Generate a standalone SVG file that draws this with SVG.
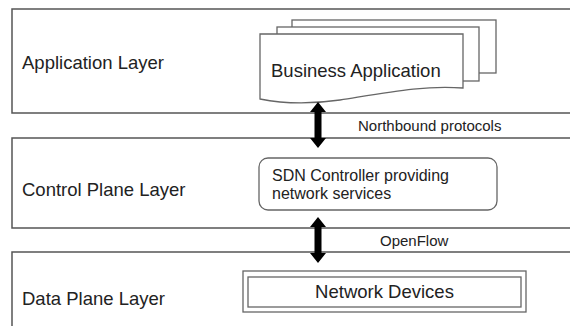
<svg xmlns="http://www.w3.org/2000/svg" width="570" height="326" viewBox="0 0 570 326">
<style>
.layer{fill:#fff;stroke:#555;stroke-width:1.5}
.box{fill:#fff;stroke:#666;stroke-width:1.3}
.arrow{fill:#000;stroke:none}
text{font-family:"Liberation Sans",Arial,sans-serif;fill:#222}
.lbl{font-size:18.5px}
.big{font-size:18.5px}
.mid{font-size:16px}
.small{font-size:15px}
</style>
<rect x="0" y="0" width="570" height="326" fill="#fff"/>
<g id="application-layer">
<rect class="layer" x="12" y="9" width="570" height="104"/>
<text class="lbl" x="22" y="69">Application Layer</text>
</g>
<g id="control-plane-layer">
<rect class="layer" x="12" y="138" width="570" height="90"/>
<text class="lbl" x="22" y="196">Control Plane Layer</text>
</g>
<g id="data-plane-layer">
<rect class="layer" x="12" y="252" width="570" height="90"/>
<text class="lbl" x="22" y="305">Data Plane Layer</text>
</g>
<g id="business-application">
<rect class="box" x="292" y="20" width="204" height="53"/>
<rect class="box" x="277" y="27" width="202" height="54"/>
<path class="box" d="M260,34 H463 V88 C425,85 390,92 340,100 C305,105 280,103 260,99 Z"/>
<text class="big" x="271" y="77">Business Application</text>
</g>
<g id="sdn-controller">
<rect class="box" x="259" y="158" width="238" height="52" rx="9"/>
<text class="mid" x="272" y="181">SDN Controller providing</text>
<text class="mid" x="272" y="199">network services</text>
</g>
<g id="network-devices">
<rect class="box" x="243" y="271" width="283" height="41"/>
<rect class="box" x="248" y="277" width="273" height="30"/>
<text class="big" x="384.5" y="298" text-anchor="middle">Network Devices</text>
</g>
<g id="connectors">
<polygon class="arrow" points="318,102 326,112 321.5,112 321.5,138 326,138 318,148 310,138 314.5,138 314.5,112 310,112"/>
<text class="small" x="358" y="131">Northbound protocols</text>
<polygon class="arrow" points="318,217 326,227 321.5,227 321.5,253 326,253 318,263 310,253 314.5,253 314.5,227 310,227"/>
<text class="small" x="380" y="246" font-size="15.5">OpenFlow</text>
</g>
</svg>
